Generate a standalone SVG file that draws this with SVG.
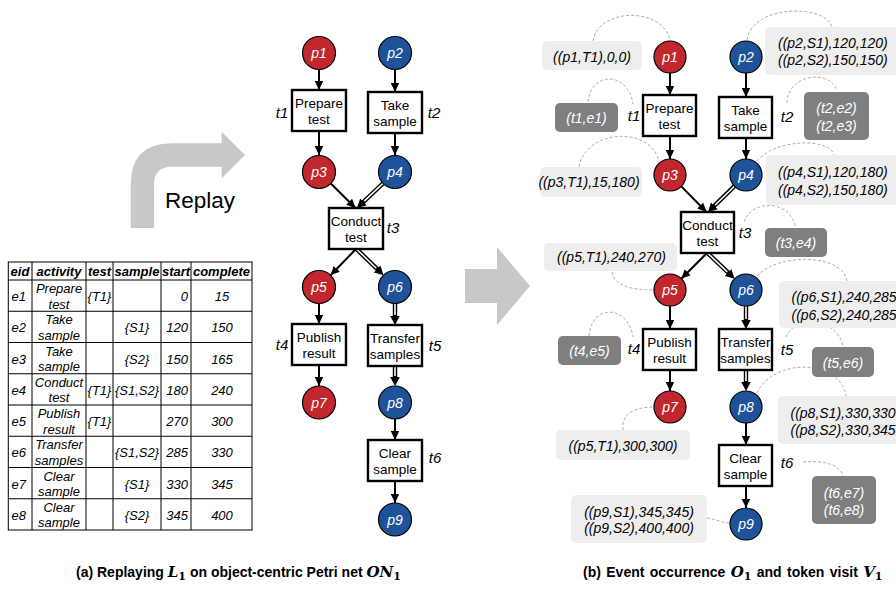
<svg xmlns="http://www.w3.org/2000/svg" width="896" height="591" viewBox="0 0 896 591">
<style>
.pr{fill:#c1272d;stroke:#000;stroke-width:1.2}
.pb{fill:#1f5399;stroke:#000;stroke-width:1.2}
.pl{font-family:"Liberation Sans",Arial,sans-serif;font-style:italic;font-size:14px;fill:#fff;text-anchor:middle}
.tr{fill:#fff;stroke:#000;stroke-width:2.4}
.tt{font-family:"Liberation Sans",Arial,sans-serif;font-size:13.5px;fill:#000;text-anchor:middle}
.tl{font-family:"Liberation Sans",Arial,sans-serif;font-style:italic;font-size:15px;fill:#000;text-anchor:middle}
.arc{stroke:#000;stroke-width:2;fill:none;marker-end:url(#ah)}
.dblk{stroke:#000;stroke-width:4.4;fill:none;marker-end:url(#ah2)}
.dblw{stroke:#fff;stroke-width:1.6;fill:none}
.lb{fill:#eeeeee}
.db{fill:#7f7f7f}
.lt{font-family:"Liberation Sans",Arial,sans-serif;font-style:italic;font-size:14px;fill:#000}
.dt{font-family:"Liberation Sans",Arial,sans-serif;font-style:italic;font-size:14px;fill:#fff;text-anchor:middle}
.dash{fill:none;stroke:#9a9a9a;stroke-width:0.8;stroke-dasharray:3 2}
.tb{stroke:#000;stroke-width:1;fill:none}
.th{font-family:"Liberation Sans",Arial,sans-serif;font-style:italic;font-weight:bold;font-size:13px;fill:#000;text-anchor:middle}
.td{font-family:"Liberation Sans",Arial,sans-serif;font-style:italic;font-size:13px;fill:#000}
.c{text-anchor:middle}
.e{text-anchor:end}
.cap{font-family:"Liberation Sans",Arial,sans-serif;font-weight:bold;font-size:14px;fill:#000}
.m{font-family:"DejaVu Serif","Liberation Serif",serif;font-style:italic;font-weight:bold;font-size:15px}
.s{font-family:"DejaVu Serif","Liberation Serif",serif;font-weight:bold;font-size:11px}
.gray{fill:#c8c8c8}
</style>
<defs>
<marker id="ah" markerUnits="userSpaceOnUse" viewBox="0 0 9 9" markerWidth="9" markerHeight="9" refX="9" refY="4.5" orient="auto"><path d="M0,0.3 L9,4.5 L0,8.7 z" fill="#000"/></marker>
<marker id="ah2" markerUnits="userSpaceOnUse" viewBox="0 0 9 10" markerWidth="9" markerHeight="10" refX="1" refY="5" orient="auto"><path d="M0,0.2 L9,5 L0,9.8 z" fill="#000"/></marker>
</defs>

<!-- big gray arrows -->
<path class="gray" d="M130.7,228 L130.7,185 Q130.7,143.3 172,143.3 L221.7,143.3 L221.7,131.7 L245,155 L221.7,178.3 L221.7,166.7 L172,166.7 Q154,166.7 154,185 L154,228 Z"/>
<text x="165" y="208" font-family="Liberation Sans,Arial,sans-serif" font-size="22.5" fill="#000">Replay</text>
<path class="gray" d="M465,269 L497,269 L497,247 L530,286 L497,325 L497,303 L465,303 Z"/>

<!-- table -->
<g id="table">
<rect class="tb" x="8.3" y="262" width="243.7" height="268" stroke-width="1.4"/>
<path class="tb" d="M8.3,280 H252 M8.3,311.25 H252 M8.3,342.5 H252 M8.3,373.75 H252 M8.3,405 H252 M8.3,436.25 H252 M8.3,467.5 H252 M8.3,498.75 H252 M32,262 V530 M86,262 V530 M113,262 V530 M161,262 V530 M191,262 V530"/>
<text class="th" x="20" y="275.5">eid</text>
<text class="th" x="59" y="275.5">activity</text>
<text class="th" x="99.5" y="275.5">test</text>
<text class="th" x="137" y="275.5">sample</text>
<text class="th" x="176" y="275.5">start</text>
<text class="th" x="221.5" y="275.5">complete</text>

<text class="td" x="11.5" y="301">e1</text><text class="td c" x="59" y="293">Prepare</text><text class="td c" x="59" y="308.5">test</text><text class="td c" x="99.5" y="301">{T1}</text><text class="td e" x="188" y="301">0</text><text class="td c" x="222" y="301">15</text>
<text class="td" x="11.5" y="332.25">e2</text><text class="td c" x="59" y="324.25">Take</text><text class="td c" x="59" y="339.75">sample</text><text class="td c" x="137" y="332.25">{S1}</text><text class="td e" x="188" y="332.25">120</text><text class="td c" x="222" y="332.25">150</text>
<text class="td" x="11.5" y="363.5">e3</text><text class="td c" x="59" y="355.5">Take</text><text class="td c" x="59" y="371">sample</text><text class="td c" x="137" y="363.5">{S2}</text><text class="td e" x="188" y="363.5">150</text><text class="td c" x="222" y="363.5">165</text>
<text class="td" x="11.5" y="394.75">e4</text><text class="td c" x="59" y="386.75">Conduct</text><text class="td c" x="59" y="402.25">test</text><text class="td c" x="99.5" y="394.75">{T1}</text><text class="td c" x="137" y="394.75">{S1,S2}</text><text class="td e" x="188" y="394.75">180</text><text class="td c" x="222" y="394.75">240</text>
<text class="td" x="11.5" y="426">e5</text><text class="td c" x="59" y="418">Publish</text><text class="td c" x="59" y="433.5">result</text><text class="td c" x="99.5" y="426">{T1}</text><text class="td e" x="188" y="426">270</text><text class="td c" x="222" y="426">300</text>
<text class="td" x="11.5" y="457.25">e6</text><text class="td c" x="59" y="449" font-size="12">Transfer</text><text class="td c" x="59" y="464.5" font-size="12">samples</text><text class="td c" x="137" y="457.25">{S1,S2}</text><text class="td e" x="188" y="457.25">285</text><text class="td c" x="222" y="457.25">330</text>
<text class="td" x="11.5" y="488.5">e7</text><text class="td c" x="59" y="480.5">Clear</text><text class="td c" x="59" y="496">sample</text><text class="td c" x="137" y="488.5">{S1}</text><text class="td e" x="188" y="488.5">330</text><text class="td c" x="222" y="488.5">345</text>
<text class="td" x="11.5" y="519.75">e8</text><text class="td c" x="59" y="511.75">Clear</text><text class="td c" x="59" y="527.25">sample</text><text class="td c" x="137" y="519.75">{S2}</text><text class="td e" x="188" y="519.75">345</text><text class="td c" x="222" y="519.75">400</text>
</g>

<!-- connectors -->
<g id="connectors">
<!-- left net -->
<line class="arc" x1="319" y1="69.5" x2="319" y2="90"/>
<line class="arc" x1="395" y1="69.5" x2="395" y2="92"/>
<line class="arc" x1="319" y1="131" x2="319" y2="155"/>
<line class="arc" x1="395" y1="133" x2="395" y2="155"/>
<line class="arc" x1="330.8" y1="183.5" x2="355.5" y2="208"/>
<line class="dblk" x1="383" y1="183.3" x2="362.8" y2="202.5"/><line class="dblw" x1="383" y1="183.3" x2="364.2" y2="201.1"/>
<line class="arc" x1="355.5" y1="249.5" x2="330.5" y2="275.2"/>
<line class="dblk" x1="357" y1="249.5" x2="377.8" y2="269.6"/><line class="dblw" x1="357" y1="249.5" x2="376.3" y2="268.2"/>
<line class="arc" x1="319" y1="303.5" x2="319" y2="324"/>
<line class="dblk" x1="395" y1="303.5" x2="395" y2="317"/><line class="dblw" x1="395" y1="303.5" x2="395" y2="315"/>
<line class="arc" x1="319" y1="365" x2="319" y2="386"/>
<line class="dblk" x1="395" y1="366" x2="395" y2="378"/><line class="dblw" x1="395" y1="366" x2="395" y2="376"/>
<line class="arc" x1="395" y1="419" x2="395" y2="440"/>
<line class="arc" x1="395" y1="481" x2="395" y2="503"/>
<!-- right net -->
<line class="arc" x1="670" y1="73" x2="670" y2="95"/>
<line class="arc" x1="746" y1="73" x2="746" y2="97"/>
<line class="arc" x1="670" y1="136" x2="670" y2="159"/>
<line class="arc" x1="746" y1="138" x2="746" y2="159"/>
<line class="arc" x1="681.3" y1="186.4" x2="706.5" y2="212"/>
<line class="dblk" x1="734.5" y1="186.2" x2="713.7" y2="206.4"/><line class="dblw" x1="734.5" y1="186.2" x2="715.2" y2="205"/>
<line class="arc" x1="706.5" y1="253.5" x2="681.3" y2="278.7"/>
<line class="dblk" x1="708" y1="253.5" x2="728.8" y2="273.2"/><line class="dblw" x1="708" y1="253.5" x2="727.3" y2="271.8"/>
<line class="arc" x1="670" y1="306" x2="670" y2="329"/>
<line class="dblk" x1="746" y1="306" x2="746" y2="321"/><line class="dblw" x1="746" y1="306" x2="746" y2="319"/>
<line class="arc" x1="670" y1="370" x2="670" y2="391"/>
<line class="dblk" x1="746" y1="370" x2="746" y2="383"/><line class="dblw" x1="746" y1="370" x2="746" y2="381"/>
<line class="arc" x1="746" y1="423" x2="746" y2="445"/>
<line class="arc" x1="746" y1="486" x2="746" y2="508"/>
<!-- dashed annotation links -->
<path class="dash" d="M593,41 C598,8 662,6 670,40"/>
<path class="dash" d="M588,102 C590,72 628,70 633,104"/>
<path class="dash" d="M747,40 C752,4 826,4 832,27"/>
<path class="dash" d="M787,103 C788,72 832,70 837,91"/>
<path class="dash" d="M579,167 C586,128 652,126 659,162"/>
<path class="dash" d="M757,161 C776,138 830,138 834,155"/>
<path class="dash" d="M744,222 C752,199 790,199 796,228"/>
<path class="dash" d="M612,272 C614,286 632,290 654,290"/>
<path class="dash" d="M757,276 C778,253 842,253 847,281"/>
<path class="dash" d="M589,336 C591,304 628,304 633,337"/>
<path class="dash" d="M786,337 C793,316 838,316 843,347"/>
<path class="dash" d="M757,393 C773,358 840,358 846,396"/>
<path class="dash" d="M623,430 C621,414 634,407 654,407"/>
<path class="dash" d="M803,462 C822,460 840,464 843,476"/>
<path class="dash" d="M707,518 C716,519 722,523 730,523"/>
</g>

<!-- left net nodes -->
<g id="L_p1"><circle class="pr" cx="319" cy="53" r="16.5"/><text class="pl" x="319" y="58">p1</text></g>
<g id="L_p2"><circle class="pb" cx="395" cy="53" r="16.5"/><text class="pl" x="395" y="58">p2</text></g>
<g id="L_t1"><rect class="tr" x="292" y="90" width="54" height="41"/><text class="tt" x="319" y="108">Prepare</text><text class="tt" x="319" y="124">test</text><text class="tl" x="282" y="118">t1</text></g>
<g id="L_t2"><rect class="tr" x="368" y="92" width="54" height="41"/><text class="tt" x="395" y="110">Take</text><text class="tt" x="395" y="126">sample</text><text class="tl" x="434" y="118">t2</text></g>
<g id="L_p3"><circle class="pr" cx="319" cy="172" r="16.5"/><text class="pl" x="319" y="177">p3</text></g>
<g id="L_p4"><circle class="pb" cx="395" cy="172" r="16.5"/><text class="pl" x="395" y="177">p4</text></g>
<g id="L_t3"><rect class="tr" x="329" y="208" width="54" height="41"/><text class="tt" x="356" y="226">Conduct</text><text class="tt" x="356" y="242">test</text><text class="tl" x="393" y="233">t3</text></g>
<g id="L_p5"><circle class="pr" cx="319" cy="287" r="16.5"/><text class="pl" x="319" y="292">p5</text></g>
<g id="L_p6"><circle class="pb" cx="395" cy="287" r="16.5"/><text class="pl" x="395" y="292">p6</text></g>
<g id="L_t4"><rect class="tr" x="292" y="324" width="54" height="41"/><text class="tt" x="319" y="342">Publish</text><text class="tt" x="319" y="358">result</text><text class="tl" x="282" y="350">t4</text></g>
<g id="L_t5"><rect class="tr" x="368" y="325" width="54" height="41"/><text class="tt" x="395" y="343" font-size="13">Transfer</text><text class="tt" x="395" y="359" font-size="13">samples</text><text class="tl" x="435" y="351">t5</text></g>
<g id="L_p7"><circle class="pr" cx="319" cy="402.5" r="16.5"/><text class="pl" x="319" y="407.5">p7</text></g>
<g id="L_p8"><circle class="pb" cx="395" cy="402.5" r="16.5"/><text class="pl" x="395" y="407.5">p8</text></g>
<g id="L_t6"><rect class="tr" x="368" y="440" width="54" height="41"/><text class="tt" x="395" y="458">Clear</text><text class="tt" x="395" y="474">sample</text><text class="tl" x="435" y="463">t6</text></g>
<g id="L_p9"><circle class="pb" cx="395" cy="519.5" r="16.5"/><text class="pl" x="395" y="524.5">p9</text></g>

<!-- right net nodes -->
<g id="R_p1"><circle class="pr" cx="670" cy="57" r="16"/><text class="pl" x="670" y="62">p1</text></g>
<g id="R_p2"><circle class="pb" cx="746" cy="57" r="16"/><text class="pl" x="746" y="62">p2</text></g>
<g id="R_t1"><rect class="tr" x="643" y="95" width="53" height="41"/><text class="tt" x="669.5" y="112.5">Prepare</text><text class="tt" x="669.5" y="128.5">test</text><text class="tl" x="634" y="121">t1</text></g>
<g id="R_t2"><rect class="tr" x="719" y="97" width="53" height="41"/><text class="tt" x="745.5" y="114.5">Take</text><text class="tt" x="745.5" y="130.5">sample</text><text class="tl" x="787" y="122">t2</text></g>
<g id="R_p3"><circle class="pr" cx="670" cy="175" r="16"/><text class="pl" x="670" y="180">p3</text></g>
<g id="R_p4"><circle class="pb" cx="746" cy="175" r="16"/><text class="pl" x="746" y="180">p4</text></g>
<g id="R_t3"><rect class="tr" x="681" y="212" width="53" height="41"/><text class="tt" x="707.5" y="229.5" font-size="13">Conduct</text><text class="tt" x="707.5" y="245.5">test</text><text class="tl" x="745" y="238">t3</text></g>
<g id="R_p5"><circle class="pr" cx="670" cy="290" r="16"/><text class="pl" x="670" y="295">p5</text></g>
<g id="R_p6"><circle class="pb" cx="746" cy="290" r="16"/><text class="pl" x="746" y="295">p6</text></g>
<g id="R_t4"><rect class="tr" x="643" y="329" width="53" height="41"/><text class="tt" x="669.5" y="346.5">Publish</text><text class="tt" x="669.5" y="362.5">result</text><text class="tl" x="634" y="354">t4</text></g>
<g id="R_t5"><rect class="tr" x="719" y="329" width="53" height="41"/><text class="tt" x="745.5" y="346.5" font-size="13">Transfer</text><text class="tt" x="745.5" y="362.5" font-size="13">samples</text><text class="tl" x="787" y="355">t5</text></g>
<g id="R_p7"><circle class="pr" cx="670" cy="407" r="16"/><text class="pl" x="670" y="412">p7</text></g>
<g id="R_p8"><circle class="pb" cx="746" cy="407" r="16"/><text class="pl" x="746" y="412">p8</text></g>
<g id="R_t6"><rect class="tr" x="719" y="445" width="53" height="41"/><text class="tt" x="745.5" y="462.5">Clear</text><text class="tt" x="745.5" y="478.5">sample</text><text class="tl" x="787" y="468">t6</text></g>
<g id="R_p9"><circle class="pb" cx="746" cy="524" r="16"/><text class="pl" x="746" y="529">p9</text></g>

<!-- token visit labels -->
<g id="V_p1"><rect class="lb" x="542" y="41" width="100" height="29" rx="5"/><text class="lt c" x="592" y="61.5">((p1,T1),0,0)</text></g>
<g id="V_p2"><rect class="lb" x="765" y="27" width="140" height="48" rx="5"/><text class="lt" x="778" y="47.5">((p2,S1),120,120)</text><text class="lt" x="778" y="65">((p2,S2),150,150)</text></g>
<g id="V_p3"><rect class="lb" x="540" y="167" width="102" height="30" rx="5"/><text class="lt c" x="589" y="187">((p3,T1),15,180)</text></g>
<g id="V_p4"><rect class="lb" x="766" y="155" width="140" height="50" rx="5"/><text class="lt" x="778" y="176.5">((p4,S1),120,180)</text><text class="lt" x="778" y="194.5">((p4,S2),150,180)</text></g>
<g id="V_p5"><rect class="lb" x="544" y="243" width="133" height="28" rx="5"/><text class="lt c" x="611.5" y="262">((p5,T1),240,270)</text></g>
<g id="V_p6"><rect class="lb" x="779" y="281" width="130" height="47" rx="5"/><text class="lt" x="791.5" y="301.5">((p6,S1),240,285</text><text class="lt" x="791.5" y="320">((p6,S2),240,285</text></g>
<g id="V_p7"><rect class="lb" x="556" y="430" width="134" height="30" rx="5"/><text class="lt c" x="623" y="451">((p5,T1),300,300)</text></g>
<g id="V_p8"><rect class="lb" x="778" y="396" width="130" height="48" rx="5"/><text class="lt" x="790.5" y="418">((p8,S1),330,330</text><text class="lt" x="790.5" y="435">((p8,S2),330,345</text></g>
<g id="V_p9"><rect class="lb" x="571" y="495" width="136" height="48" rx="5"/><text class="lt c" x="639" y="516.5">((p9,S1),345,345)</text><text class="lt c" x="639" y="533">((p9,S2),400,400)</text></g>

<!-- event occurrence labels -->
<g id="O_t1"><rect class="db" x="555" y="103" width="63" height="29" rx="5"/><text class="dt" x="586.5" y="122.5">(t1,e1)</text></g>
<g id="O_t2"><rect class="db" x="804" y="92" width="65" height="48" rx="5"/><text class="dt" x="836.5" y="113">(t2,e2)</text><text class="dt" x="836.5" y="131">(t2,e3)</text></g>
<g id="O_t3"><rect class="db" x="765" y="228" width="62" height="29" rx="5"/><text class="dt" x="796" y="248">(t3,e4)</text></g>
<g id="O_t4"><rect class="db" x="558" y="336" width="63" height="29" rx="5"/><text class="dt" x="589.5" y="356">(t4,e5)</text></g>
<g id="O_t5"><rect class="db" x="812" y="347" width="62" height="30" rx="5"/><text class="dt" x="843" y="367.5">(t5,e6)</text></g>
<g id="O_t6"><rect class="db" x="812" y="476" width="64" height="48" rx="5"/><text class="dt" x="844" y="497.5">(t6,e7)</text><text class="dt" x="844" y="515">(t6,e8)</text></g>

<!-- captions -->
<text class="cap" x="76" y="577">(a) Replaying <tspan class="m">L</tspan><tspan class="s" dy="3">1</tspan><tspan dy="-3"> on object-centric Petri net </tspan><tspan class="m">ON</tspan><tspan class="s" dy="3">1</tspan></text>
<text class="cap" x="583" y="577" word-spacing="1.5">(b) Event occurrence <tspan class="m">O</tspan><tspan class="s" dy="3">1</tspan><tspan dy="-3"> and token visit </tspan><tspan class="m">V</tspan><tspan class="s" dy="3">1</tspan></text>
</svg>
